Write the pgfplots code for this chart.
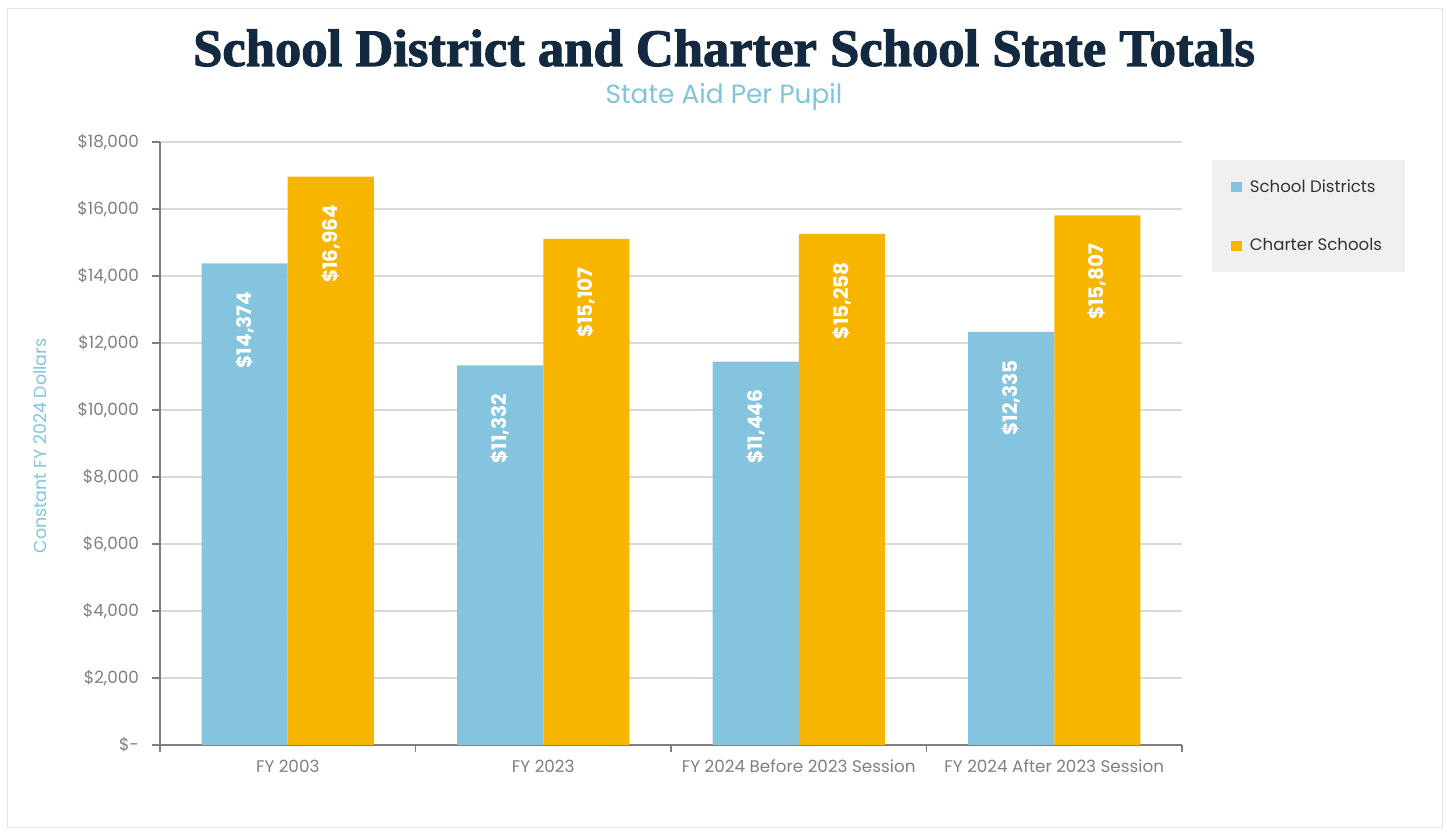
\documentclass[border=0pt]{standalone}
\usepackage{pgfplots}
\pgfplotsset{compat=1.18}
\usepackage{fontspec}
\setmainfont{Poppins}
\newfontfamily\titlefont{Liberation Serif}[BoldFeatures={FakeBold=2}]
\definecolor{sdblue}{HTML}{85C4DE}
\definecolor{csorange}{HTML}{F7B500}
\definecolor{navy}{HTML}{13293F}
\definecolor{subblue}{HTML}{7FC4DD}
\definecolor{tickgray}{HTML}{7F7F7F}
\definecolor{gridgray}{HTML}{D9D9D9}
\definecolor{leggray}{HTML}{F0F0F0}

\begin{document}
\begin{tikzpicture}
\path[use as bounding box] (0,0) rectangle (723.5pt,416.5pt);
\draw[gray!20, line width=0.5pt] (3.5pt,2.5pt) rectangle (721pt,412pt);
\node[font=\titlefont\bfseries\fontsize{26.3}{30}\selectfont, text=navy] at (362pt,392.5pt) {School District and Charter School State Totals};
\node[font=\fontsize{13.2}{15}\selectfont, text=subblue] at (362pt,368pt) {State Aid Per Pupil};
\node[rotate=90, font=\fontsize{8.7}{10}\selectfont, text=subblue] at (20pt,193.5pt) {Constant FY 2024 Dollars};
\begin{axis}[
  at={(80pt,44pt)}, anchor=south west,
  width=511pt, height=301.5pt, scale only axis,
  ybar, bar width=0.337,
  xmin=-0.5, xmax=3.5, ymin=0, ymax=18000,
  scaled y ticks=false,
  axis lines*=left,
  axis line style={tickgray, line width=0.6pt},
  tick align=outside, major tick length=4pt,
  tick style={tickgray, line width=0.6pt},
  ytick={0,2000,...,18000},
  yticklabels={{\$-},{\$2,000},{\$4,000},{\$6,000},{\$8,000},{\$10,000},{\$12,000},{\$14,000},{\$16,000},{\$18,000}},
  xtick={0,1,2,3},
  xticklabels={FY 2003, FY 2023, FY 2024 Before 2023 Session, FY 2024 After 2023 Session},
  major x tick style={draw=none},
  extra x ticks={-0.5,0.5,1.5,2.5,3.5},
  extra x tick labels={},
  extra x tick style={grid=none, major tick length=3.5pt,
    major x tick style={draw=tickgray, line width=0.6pt}},
  ymajorgrids, grid style={gridgray, line width=0.75pt},
  tick label style={font=\fontsize{8.4}{10}\selectfont, text=tickgray},
  y tick label style={xshift=-3pt},
  point meta=explicit symbolic,
  nodes near coords,
  nodes near coords style={rotate=90, anchor=east, font=\bfseries\fontsize{10}{12}\selectfont, text=white, inner xsep=14pt},
  legend cell align=left,
  legend style={at={(1.0294,0.970)}, anchor=north west, fill=leggray, draw=none,
    font=\fontsize{8.3}{10}\selectfont, text=black!80, row sep=17.5pt, inner xsep=9.5pt, inner ysep=7.5pt,
    /tikz/every odd column/.style={column sep=2pt}},
  legend image code/.code={\fill[#1] (0pt,-2.6pt) rectangle (5.2pt,2.6pt);},
  clip=false,
]
\addplot[fill=sdblue, draw=none, bar shift=-0.1685] coordinates {
  (0,14374) [\$14,374]
  (1,11332) [\$11,332]
  (2,11446) [\$11,446]
  (3,12335) [\$12,335]
};
\addplot[fill=csorange, draw=none, bar shift=0.1685] coordinates {
  (0,16964) [\$16,964]
  (1,15107) [\$15,107]
  (2,15258) [\$15,258]
  (3,15807) [\$15,807]
};
\legend{School Districts, Charter Schools}
\end{axis}
\end{tikzpicture}
\end{document}
